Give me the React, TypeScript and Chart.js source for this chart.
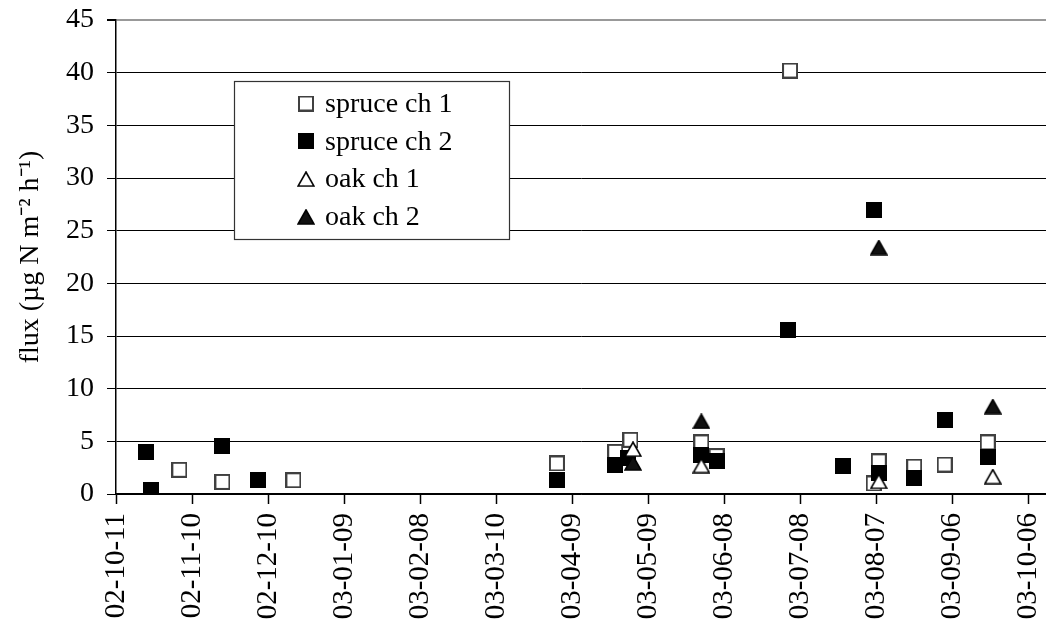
import { useEffect, useRef } from "react";
import { Chart, registerables } from "chart.js";
Chart.register(...registerables);

// x values are days after 2002-10-11
const tickLabels = [
  "02-10-11",
  "02-11-10",
  "02-12-10",
  "03-01-09",
  "03-02-08",
  "03-03-10",
  "03-04-09",
  "03-05-09",
  "03-06-08",
  "03-07-08",
  "03-08-07",
  "03-09-06",
  "03-10-06",
];

const spruce1Days = [25, 42, 70, 174, 197, 203, 231, 237, 266, 299, 301, 315, 327, 344];
const spruce1Flux = [2.3, 1.15, 1.3, 2.9, 4.0, 5.15, 4.9, 3.6, 40.2, 1.0, 3.1, 2.6, 2.8, 4.9];

const spruce2Days = [12, 14, 42, 56, 174, 197, 202, 231, 237, 265, 287, 299, 301, 315, 327, 344];
const spruce2Flux = [4.0, 0.4, 4.6, 1.35, 1.3, 2.8, 3.4, 3.7, 3.1, 15.6, 2.7, 27.0, 2.0, 1.55, 7.0, 3.5];

const oak1Days = [204, 231, 301, 346];
const oak1Flux = [4.25, 2.7, 1.2, 1.65];

const oak2Days = [204, 231, 301, 346];
const oak2Flux = [2.95, 6.9, 23.4, 8.3];

const labels = ["spruce ch 1", "spruce ch 2", "oak ch 1", "oak ch 2"];

const FONT = "'Liberation Serif', 'Times New Roman', serif";

const toPoints = (xs: number[], ys: number[]) => xs.map((x, i) => ({ x, y: ys[i] }));

const makeSquare = (fill: string, stroke: string) => {
  const c = document.createElement("canvas");
  c.width = 16;
  c.height = 16;
  const ctx = c.getContext("2d")!;
  ctx.fillStyle = stroke;
  ctx.fillRect(0, 0, 16, 16);
  ctx.fillStyle = fill;
  ctx.fillRect(2, 2, 12, 12);
  return c;
};

const makeTriangle = (fill: string) => {
  const c = document.createElement("canvas");
  c.width = 18;
  c.height = 16;
  const ctx = c.getContext("2d")!;
  ctx.beginPath();
  ctx.moveTo(9, 1);
  ctx.lineTo(17, 15);
  ctx.lineTo(1, 15);
  ctx.closePath();
  ctx.fillStyle = fill;
  ctx.fill();
  ctx.lineWidth = 1.6;
  ctx.strokeStyle = "#000";
  ctx.stroke();
  return c;
};

const App = () => {
  const canvasRef = useRef<HTMLCanvasElement>(null);

  useEffect(() => {
    const canvas = canvasRef.current;
    if (!canvas) return;

    const markers = [
      makeSquare("#fff", "#404040"),
      makeSquare("#000", "#000"),
      makeTriangle("#fff"),
      makeTriangle("#111"),
    ];

    // boxed legend sitting inside the plot
    const boxLegend = {
      id: "boxLegend",
      afterDraw(chart: Chart) {
        const ctx = chart.ctx;
        ctx.save();
        ctx.fillStyle = "#fff";
        ctx.fillRect(234, 81, 275, 158);
        ctx.strokeStyle = "#333";
        ctx.lineWidth = 1.2;
        ctx.strokeRect(234.5, 81.5, 275, 158);
        ctx.font = `28px ${FONT}`;
        ctx.fillStyle = "#000";
        ctx.textBaseline = "middle";
        labels.forEach((label, i) => {
          const y = 103.5 + i * 37.8;
          const m = markers[i];
          ctx.drawImage(m, 306 - m.width / 2, y - m.height / 2);
          ctx.fillText(label, 325, y + 1);
        });
        ctx.restore();
      },
    };

    const chart = new Chart(canvas, {
      type: "scatter",
      data: {
        datasets: [
          { label: labels[0], data: toPoints(spruce1Days, spruce1Flux), pointStyle: markers[0], order: 4 },
          { label: labels[1], data: toPoints(spruce2Days, spruce2Flux), pointStyle: markers[1], order: 3 },
          { label: labels[2], data: toPoints(oak1Days, oak1Flux), pointStyle: markers[2], order: 1 },
          { label: labels[3], data: toPoints(oak2Days, oak2Flux), pointStyle: markers[3], order: 2 },
        ],
      },
      options: {
        animation: false,
        responsive: true,
        maintainAspectRatio: false,
        layout: { autoPadding: false, padding: { top: 20, right: 0, left: 0, bottom: 0 } },
        plugins: {
          legend: { display: false },
          tooltip: { enabled: false },
        },
        scales: {
          x: {
            type: "linear",
            min: 0,
            max: 367,
            afterBuildTicks: (s: any) => {
              s.ticks = tickLabels.map((_, i) => ({ value: i * 30 }));
            },
            afterFit: (s: any) => {
              s.height = 128;
              s.paddingLeft = 0;
              s.paddingRight = 0;
            },
            grid: { drawOnChartArea: false, tickLength: 10, tickColor: "#000", tickWidth: 1.5 },
            border: { color: "#000", width: 1.5 },
            ticks: {
              autoSkip: false,
              minRotation: 90,
              maxRotation: 90,
              padding: 9,
              color: "#000",
              font: { family: FONT, size: 29 },
              callback: (_v: any, i: number) => tickLabels[i],
            },
          },
          y: {
            min: 0,
            max: 45,
            afterFit: (s: any) => {
              s.width = 116;
              s.paddingTop = 0;
              s.paddingBottom = 0;
            },
            grid: {
              color: (c: any) => (c.tick && c.tick.value === 45 ? "#999" : "#000"),
              lineWidth: (c: any) => (c.tick && c.tick.value === 45 ? 2 : 1),
              tickLength: 9,
              tickColor: "#000",
            },
            border: { color: "#000", width: 1.5 },
            ticks: {
              stepSize: 5,
              padding: 13,
              color: "#000",
              font: { family: FONT, size: 28 },
            },
            title: {
              display: true,
              text: "flux (µg N m⁻² h⁻¹)",
              color: "#000",
              font: { family: FONT, size: 28 },
              padding: { top: 14, bottom: 0 },
            },
          },
        },
      },
      plugins: [boxLegend],
    });

    return () => {
      chart.destroy();
    };
  }, []);

  return (
    <div style={{ position: "absolute", left: 0, top: 0, width: 1046, height: 622, background: "#fff" }}>
      <canvas ref={canvasRef}></canvas>
    </div>
  );
};

export default App;
